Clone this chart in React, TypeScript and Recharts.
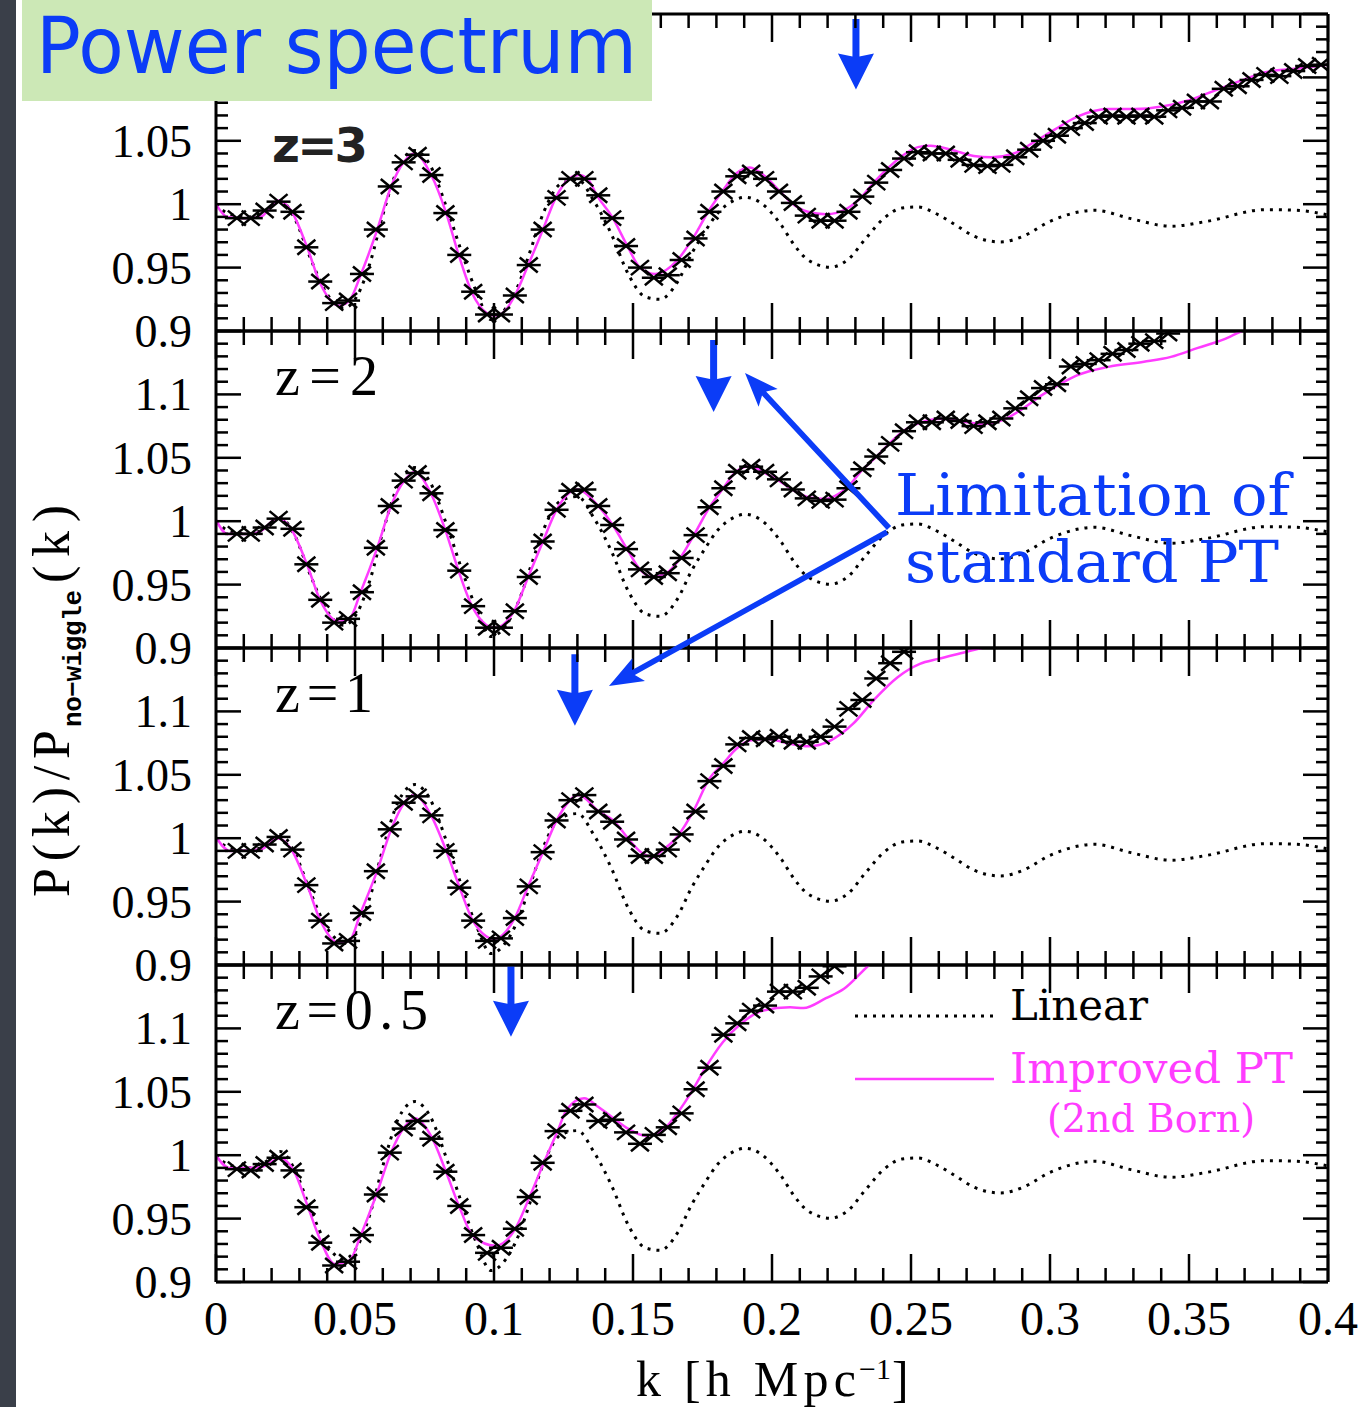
import React from "react";
import { ComposedChart, Line, XAxis, YAxis, ReferenceLine } from "recharts";

// ---- data ----
const kTicks = [0, 0.01, 0.02, 0.03, 0.04, 0.05, 0.06, 0.07, 0.08, 0.09, 0.1, 0.11, 0.12, 0.13, 0.14, 0.15, 0.16, 0.17, 0.18, 0.19, 0.2, 0.21, 0.22, 0.23, 0.24, 0.25, 0.26, 0.27, 0.28, 0.29, 0.3, 0.31, 0.32, 0.33, 0.34, 0.35, 0.36, 0.37, 0.38, 0.39, 0.4];
const kLabels = ["0", "0.05", "0.1", "0.15", "0.2", "0.25", "0.3", "0.35", "0.4"];
const ratioTicks = [0.9, 0.91, 0.92, 0.93, 0.94, 0.95, 0.96, 0.97, 0.98, 0.99, 1, 1.01, 1.02, 1.03, 1.04, 1.05, 1.06, 1.07, 1.08, 1.09, 1.1, 1.11, 1.12, 1.13, 1.14, 1.15];
const ratioLabels = ["0.9", "0.95", "1", "1.05", "1.1"];

const redshiftLabels = ["z=3", "z=2", "z=1", "z=0.5"];

// linear theory (same for every redshift)
const linearK = [0, 0.005, 0.012, 0.018, 0.023, 0.028, 0.0344, 0.0397, 0.0458, 0.051, 0.0556, 0.0602, 0.0655, 0.0716, 0.0769, 0.083, 0.0891, 0.0936, 0.099, 0.1043, 0.1088, 0.1134, 0.118, 0.124, 0.13, 0.136, 0.1423, 0.1484, 0.1544, 0.1597, 0.1662, 0.1709, 0.1758, 0.1807, 0.1855, 0.1904, 0.1968, 0.2032, 0.2081, 0.213, 0.221, 0.2273, 0.2339, 0.2404, 0.2468, 0.2524, 0.2597, 0.2662, 0.2727, 0.2823, 0.2903, 0.3, 0.3162, 0.3291, 0.3435, 0.3565, 0.3775, 0.3888, 0.4];
const linearRatio = [1.0, 0.992, 0.99, 0.995, 1.003, 0.99, 0.955, 0.93, 0.918, 0.9286, 0.955, 0.993, 1.0286, 1.0423, 1.0312, 0.997, 0.9576, 0.9313, 0.909, 0.918, 0.9365, 0.9655, 0.9944, 1.016, 1.0194, 1.0023, 0.976, 0.9444, 0.927, 0.925, 0.9394, 0.9602, 0.978, 0.9935, 1.002, 1.0055, 0.9997, 0.9839, 0.9675, 0.956, 0.9503, 0.9563, 0.9734, 0.9892, 0.997, 0.9978, 0.9918, 0.9834, 0.9747, 0.9702, 0.9747, 0.9865, 0.9952, 0.9886, 0.9826, 0.9865, 0.9957, 0.9952, 0.9915];

// improved PT (2nd Born)
const ptK_z3 = [0, 0.004, 0.01, 0.016, 0.0223, 0.027, 0.0328, 0.0374, 0.0442, 0.048, 0.052, 0.058, 0.063, 0.0675, 0.0714, 0.0774, 0.0828, 0.0873, 0.0921, 0.0975, 0.1002, 0.103, 0.1073, 0.1123, 0.1176, 0.1222, 0.127, 0.1305, 0.134, 0.137, 0.1425, 0.148, 0.1525, 0.158, 0.166, 0.1718, 0.1773, 0.1824, 0.187, 0.192, 0.1975, 0.2025, 0.207, 0.2129, 0.2194, 0.2273, 0.2323, 0.237, 0.242, 0.2468, 0.2525, 0.257, 0.2644, 0.2726, 0.279, 0.287, 0.2935, 0.3018, 0.3098, 0.321, 0.3306, 0.3403, 0.35, 0.3597, 0.3695, 0.3774, 0.3888, 0.4];
const ptRatio_z3 = [1.0, 0.99, 0.989, 0.99, 1.003, 0.995, 0.966, 0.938, 0.92, 0.924, 0.944, 0.98, 1.014, 1.033, 1.04, 1.023, 0.993, 0.96, 0.93, 0.914, 0.912, 0.914, 0.927, 0.952, 0.98, 1.005, 1.02, 1.023, 1.019, 1.007, 0.99, 0.967, 0.95, 0.945, 0.956, 0.974, 0.995, 1.011, 1.024, 1.029, 1.022, 1.011, 1.001, 0.994, 0.992, 0.997, 1.006, 1.018, 1.029, 1.038, 1.045, 1.046, 1.043, 1.038, 1.037, 1.04, 1.048, 1.059, 1.069, 1.075, 1.075, 1.077, 1.082, 1.09, 1.098, 1.104, 1.107, 1.11];
const ptK_z2 = [0, 0.004, 0.012, 0.016, 0.0223, 0.027, 0.0328, 0.0374, 0.0442, 0.048, 0.052, 0.058, 0.063, 0.0677, 0.0714, 0.0774, 0.0825, 0.0873, 0.0921, 0.1002, 0.1073, 0.1123, 0.1176, 0.1225, 0.1298, 0.1377, 0.1427, 0.148, 0.1525, 0.157, 0.162, 0.167, 0.1718, 0.1774, 0.1823, 0.187, 0.192, 0.1975, 0.2025, 0.2072, 0.213, 0.2194, 0.224, 0.2273, 0.2323, 0.238, 0.2428, 0.2475, 0.2532, 0.2613, 0.2694, 0.276, 0.284, 0.289, 0.2968, 0.305, 0.3097, 0.321, 0.3338, 0.3435, 0.3532, 0.363, 0.37, 0.375];
const ptRatio_z2 = [1.001, 0.99, 0.99, 0.992, 1.0026, 0.994, 0.9655, 0.938, 0.9208, 0.923, 0.944, 0.979, 1.0123, 1.032, 1.0389, 1.0215, 0.993, 0.9605, 0.933, 0.9158, 0.9295, 0.956, 0.984, 1.009, 1.025, 1.0115, 0.997, 0.9776, 0.962, 0.956, 0.959, 0.971, 0.9886, 1.0105, 1.0255, 1.039, 1.0434, 1.038, 1.032, 1.025, 1.019, 1.0176, 1.0215, 1.027, 1.04, 1.0517, 1.0625, 1.0715, 1.0775, 1.0807, 1.0783, 1.0767, 1.0807, 1.087, 1.099, 1.1099, 1.115, 1.1217, 1.1257, 1.1296, 1.1367, 1.1438, 1.151, 1.156];
const ptK_z1 = [0, 0.005, 0.016, 0.0223, 0.027, 0.0328, 0.0374, 0.0442, 0.048, 0.052, 0.058, 0.063, 0.0677, 0.0714, 0.0774, 0.0828, 0.0876, 0.0924, 0.1002, 0.1073, 0.1123, 0.1176, 0.1225, 0.1305, 0.1377, 0.143, 0.1484, 0.1529, 0.1575, 0.1597, 0.1662, 0.1718, 0.1774, 0.1823, 0.1871, 0.192, 0.1984, 0.2065, 0.213, 0.221, 0.2291, 0.237, 0.2452, 0.2532, 0.2597, 0.2694, 0.2766, 0.28];
const ptRatio_z1 = [1.0008, 0.99, 0.991, 1.0, 0.9915, 0.963, 0.9357, 0.9174, 0.9192, 0.941, 0.9744, 1.0068, 1.0278, 1.0341, 1.0178, 0.9902, 0.9613, 0.935, 0.9205, 0.9363, 0.9621, 0.9889, 1.0139, 1.0341, 1.021, 1.0139, 0.9994, 0.9889, 0.985, 0.9889, 1.002, 1.0217, 1.0468, 1.0586, 1.0704, 1.077, 1.0783, 1.0744, 1.0725, 1.077, 1.0901, 1.1099, 1.127, 1.1375, 1.1414, 1.1467, 1.1507, 1.153];
const ptK_z05 = [0, 0.005, 0.016, 0.023, 0.028, 0.0328, 0.0374, 0.0427, 0.048, 0.052, 0.058, 0.063, 0.0677, 0.0716, 0.0776, 0.0828, 0.0876, 0.0924, 0.1005, 0.1076, 0.1126, 0.118, 0.1228, 0.1263, 0.1324, 0.1377, 0.143, 0.1484, 0.1544, 0.1597, 0.1662, 0.171, 0.1758, 0.1823, 0.1888, 0.1968, 0.2065, 0.2113, 0.2194, 0.2259, 0.2347, 0.238];
const ptRatio_z05 = [0.9997, 0.9897, 0.9905, 0.9976, 0.9878, 0.9608, 0.9339, 0.9142, 0.9168, 0.9365, 0.9708, 1.0023, 1.0221, 1.0292, 1.0142, 0.9865, 0.9589, 0.9365, 0.9286, 0.9418, 0.966, 0.9944, 1.0186, 1.0365, 1.0449, 1.0378, 1.0292, 1.0207, 1.0154, 1.018, 1.0339, 1.0497, 1.068, 1.0891, 1.1036, 1.1141, 1.1167, 1.116, 1.1238, 1.1312, 1.1496, 1.156];

// N-body bins
const nbodyK = [0.0075, 0.0125, 0.0175, 0.0225, 0.0275, 0.0325, 0.0375, 0.0425, 0.0475, 0.0525, 0.0575, 0.0625, 0.0675, 0.0725, 0.0775, 0.0825, 0.0875, 0.0925, 0.0975, 0.1025, 0.1075, 0.1125, 0.1175, 0.1225, 0.1275, 0.1325, 0.1375, 0.1425, 0.1475, 0.1525, 0.1575, 0.1625, 0.1675, 0.1725, 0.1775, 0.1825, 0.1875, 0.1925, 0.1975, 0.2025, 0.2075, 0.2125, 0.2175, 0.2225, 0.2275, 0.2325, 0.2375, 0.2425, 0.2475, 0.2525, 0.2575, 0.2625, 0.2675, 0.2725, 0.2775, 0.2825, 0.2875, 0.2925, 0.2975, 0.3025, 0.3075, 0.3125, 0.3175, 0.3225, 0.3275, 0.3325, 0.3375, 0.3425, 0.3475, 0.3525, 0.3575, 0.3625, 0.3675, 0.3725, 0.3775, 0.3825, 0.3875, 0.3925, 0.3975];
const nbodyRatio_z3 = [0.989, 0.989, 0.995, 1.002, 0.994, 0.966, 0.939, 0.922, 0.924, 0.945, 0.98, 1.014, 1.033, 1.039, 1.023, 0.993, 0.96, 0.931, 0.913, 0.913, 0.928, 0.952, 0.98, 1.005, 1.02, 1.02, 1.007, 0.989, 0.967, 0.95, 0.942, 0.944, 0.956, 0.973, 0.994, 1.01, 1.022, 1.025, 1.02, 1.01, 1.001, 0.991, 0.987, 0.987, 0.994, 1.006, 1.017, 1.027, 1.036, 1.041, 1.04, 1.04, 1.035, 1.031, 1.03, 1.031, 1.037, 1.043, 1.05, 1.054, 1.06, 1.064, 1.069, 1.07, 1.069, 1.07, 1.069, 1.074, 1.076, 1.081, 1.081, 1.091, 1.093, 1.098, 1.102, 1.101, 1.105, 1.109, 1.11];
const nbodyRatio_z2 = [0.99, 0.99, 0.995, 1.002, 0.994, 0.966, 0.938, 0.92, 0.923, 0.944, 0.979, 1.012, 1.032, 1.038, 1.022, 0.993, 0.961, 0.933, 0.916, 0.916, 0.929, 0.956, 0.984, 1.009, 1.024, 1.025, 1.012, 0.997, 0.978, 0.962, 0.956, 0.959, 0.971, 0.989, 1.011, 1.026, 1.039, 1.043, 1.039, 1.033, 1.025, 1.018, 1.016, 1.017, 1.026, 1.041, 1.051, 1.061, 1.071, 1.078, 1.078, 1.081, 1.079, 1.075, 1.078, 1.081, 1.089, 1.097, 1.105, 1.108, 1.122, 1.124, 1.127, 1.132, 1.135, 1.14, 1.142, 1.148];
const nbodyRatio_z1 = [0.99, 0.99, 0.995, 1.001, 0.991, 0.963, 0.935, 0.917, 0.919, 0.941, 0.974, 1.007, 1.028, 1.033, 1.018, 0.99, 0.961, 0.935, 0.919, 0.921, 0.937, 0.962, 0.989, 1.014, 1.03, 1.034, 1.021, 1.013, 0.999, 0.986, 0.986, 0.991, 1.003, 1.021, 1.045, 1.057, 1.074, 1.079, 1.078, 1.08, 1.076, 1.076, 1.08, 1.088, 1.102, 1.109, 1.126, 1.138, 1.147];
const nbodyRatio_z05 = [0.989, 0.988, 0.993, 0.998, 0.988, 0.959, 0.931, 0.913, 0.916, 0.937, 0.969, 1.002, 1.021, 1.027, 1.013, 0.987, 0.96, 0.937, 0.923, 0.927, 0.942, 0.967, 0.994, 1.019, 1.035, 1.04, 1.027, 1.028, 1.018, 1.009, 1.016, 1.022, 1.033, 1.052, 1.069, 1.095, 1.104, 1.114, 1.118, 1.129, 1.129, 1.132, 1.141, 1.149];

// blue arrows marking the wave number limit in each panel
const arrowK = [0.2302, 0.179, 0.1291, 0.1061];
const arrowTop = [1.146, 1.143, 1.145, 1.149];
const arrowTip = [1.0905, 1.0862, 1.0886, 1.0935];

// ---- layout ----
const W = 1364;
const H = 1407;
const PLOT_LEFT = 216;
const PLOT_RIGHT = 1328;
const PLOT_H = 317;
const PANEL_TOPS = [14, 331, 648, 965];

const BLUE = "#0b3cf7";
const MAGENTA = "#ff3cff";
const SERIF = '"Liberation Serif", "DejaVu Serif", serif';
const SLAB = '"DejaVu Serif", serif';
const SANS = '"DejaVu Sans", sans-serif';
const AXIS_LINE = { stroke: "#000", strokeWidth: 3 };

const ptK = [ptK_z3, ptK_z2, ptK_z1, ptK_z05];
const ptRatio = [ptRatio_z3, ptRatio_z2, ptRatio_z1, ptRatio_z05];
const nbodyRatio = [nbodyRatio_z3, nbodyRatio_z2, nbodyRatio_z1, nbodyRatio_z05];

const rows = (ks: number[], vs: number[]) => vs.map((r, i) => ({ k: ks[i], r }));
const linearRows = rows(linearK, linearRatio);

const isMajorK = (v: number) => Math.abs(v * 20 - Math.round(v * 20)) < 1e-6;
const isMajorR = (v: number) => Math.abs((v - 0.9) * 20 - Math.round((v - 0.9) * 20)) < 1e-6;

const BottomTick = (p: any) => {
  const { x, y, payload, showLabel } = p;
  const major = isMajorK(payload.value);
  const label = major ? kLabels[Math.round(payload.value * 20)] : null;
  return (
    <g>
      <line x1={x} y1={y} x2={x} y2={y - (major ? 28 : 14)} stroke="#000" strokeWidth={2.5} />
      {showLabel && label ? (
        <text x={x} y={y + 53} textAnchor="middle" fontFamily={SERIF} fontSize={48} fill="#000">
          {label}
        </text>
      ) : null}
    </g>
  );
};

const TopTick = (p: any) => {
  const { x, y, payload } = p;
  const major = isMajorK(payload.value);
  return <line x1={x} y1={y} x2={x} y2={y + (major ? 28 : 14)} stroke="#000" strokeWidth={2.5} />;
};

// labels above maxLabel are hidden behind the title box in the top panel
const LeftTick = (p: any) => {
  const { x, y, payload, maxLabel } = p;
  const major = isMajorR(payload.value);
  const label = major && payload.value <= maxLabel ? ratioLabels[Math.round((payload.value - 0.9) * 20)] : null;
  return (
    <g>
      <line x1={x} y1={y} x2={x + (major ? 25 : 12)} y2={y} stroke="#000" strokeWidth={2.5} />
      {label ? (
        <text x={x - 24} y={y + 16} textAnchor="end" fontFamily={SERIF} fontSize={46} fill="#000">
          {label}
        </text>
      ) : null}
    </g>
  );
};

const RightTick = (p: any) => {
  const { x, y, payload } = p;
  const major = isMajorR(payload.value);
  return <line x1={x} y1={y} x2={x - (major ? 25 : 12)} y2={y} stroke="#000" strokeWidth={2.5} />;
};

const renderStar = (p: any) => {
  const { cx, cy, index } = p;
  if (cx == null || cy == null) return <g key={`s${index}`} />;
  return (
    <g key={`s${index}`} stroke="#000" strokeWidth={2.5} fill="none">
      <line x1={cx - 12} y1={cy} x2={cx + 12} y2={cy} />
      <line x1={cx - 9} y1={cy - 7.5} x2={cx + 9} y2={cy + 7.5} />
      <line x1={cx - 9} y1={cy + 7.5} x2={cx + 9} y2={cy - 7.5} />
    </g>
  );
};

const DownArrow = (p: any) => {
  const { x1, y1, y2 } = p;
  const sw = 3.5;
  const hw = 18;
  const yb = y2 - 33;
  const pts = [
    [x1 - sw, y1], [x1 + sw, y1], [x1 + sw, yb], [x1 + hw, yb - 3],
    [x1, y2], [x1 - hw, yb - 3], [x1 - sw, yb],
  ].map((q) => q.join(",")).join(" ");
  return <polygon points={pts} fill={BLUE} />;
};

function Panel({ i }: { i: number }) {
  const top = PANEL_TOPS[i];
  const last = i === PANEL_TOPS.length - 1;
  const padTop = 12;
  const padBottom = last ? H - (top + PLOT_H) : 26;
  const maxLabel = i === 0 ? 1.075 : 1.2;
  const pt = rows(ptK[i], ptRatio[i]);
  const nb = rows(nbodyK, nbodyRatio[i]);
  return (
    <div style={{ position: "absolute", left: 0, top: top - padTop }}>
      <ComposedChart width={W} height={padTop + PLOT_H + padBottom} margin={{ top: 0, right: 0, bottom: 0, left: 0 }}>
        <XAxis xAxisId="b" type="number" dataKey="k" domain={[0, 0.4]} allowDataOverflow ticks={kTicks} interval={0}
          height={padBottom} tickSize={0} tickMargin={0} tickLine={false} axisLine={AXIS_LINE}
          tick={(p: any) => <BottomTick {...p} showLabel={last} />} />
        <XAxis xAxisId="t" orientation="top" type="number" dataKey="k" domain={[0, 0.4]} allowDataOverflow ticks={kTicks} interval={0}
          height={padTop} tickSize={0} tickMargin={0} tickLine={false} axisLine={AXIS_LINE} tick={TopTick} />
        <YAxis yAxisId="l" type="number" domain={[0.9, 1.15]} allowDataOverflow ticks={ratioTicks} interval={0}
          width={PLOT_LEFT} tickSize={0} tickMargin={0} tickLine={false} axisLine={AXIS_LINE}
          tick={(p: any) => <LeftTick {...p} maxLabel={maxLabel} />} />
        <YAxis yAxisId="r" orientation="right" type="number" domain={[0.9, 1.15]} allowDataOverflow ticks={ratioTicks} interval={0}
          width={W - PLOT_RIGHT} tickSize={0} tickMargin={0} tickLine={false} axisLine={AXIS_LINE} tick={RightTick} />
        <Line xAxisId="b" yAxisId="l" data={linearRows} dataKey="r" type="monotone" stroke="#000" strokeWidth={3}
          strokeDasharray="3 6" dot={false} activeDot={false} isAnimationActive={false} />
        <Line xAxisId="b" yAxisId="l" data={nb} dataKey="r" stroke="none" strokeWidth={0}
          dot={renderStar} activeDot={false} isAnimationActive={false} />
        <Line xAxisId="b" yAxisId="l" data={pt} dataKey="r" type="monotone" stroke={MAGENTA} strokeWidth={2.5}
          dot={false} activeDot={false} isAnimationActive={false} />
        <ReferenceLine xAxisId="b" yAxisId="l" ifOverflow="visible"
          segment={[{ x: arrowK[i], y: arrowTop[i] }, { x: arrowK[i], y: arrowTip[i] }]}
          shape={DownArrow} />
      </ComposedChart>
    </div>
  );
}

function arrowPoints(x0: number, y0: number, x1: number, y1: number) {
  const len = Math.hypot(x1 - x0, y1 - y0);
  const ux = (x1 - x0) / len;
  const uy = (y1 - y0) / len;
  const nx = -uy;
  const ny = ux;
  const sh = 2.8;
  const hh = 13;
  const bx = x1 - ux * 28;
  const by = y1 - uy * 28;
  const wx = bx - ux * 6;
  const wy = by - uy * 6;
  return [
    [x0 + nx * sh, y0 + ny * sh], [bx + nx * sh, by + ny * sh], [wx + nx * hh, wy + ny * hh],
    [x1, y1], [wx - nx * hh, wy - ny * hh], [bx - nx * sh, by - ny * sh], [x0 - nx * sh, y0 - ny * sh],
  ].map((q) => q.map((v) => v.toFixed(1)).join(",")).join(" ");
}

function Overlay() {
  const zY = [162, 395, 712, 1029];
  const zLen = [96, 103, 98, 153];
  return (
    <svg width={W} height={H} style={{ position: "absolute", left: 0, top: 0, pointerEvents: "none" }}>
      <rect x={0} y={0} width={16} height={H} fill="#3a3f49" />
      <rect x={22} y={0} width={630} height={101} fill="#cce8b6" />
      <text x={36} y={73} fontFamily={SANS} fontSize={78} fill={BLUE} textLength={601} lengthAdjust="spacingAndGlyphs">
        Power spectrum
      </text>

      {redshiftLabels.map((z, i) => (
        <text key={z} x={i === 0 ? 272 : 275} y={zY[i]} fontFamily={i === 0 ? SANS : SERIF}
          fontWeight={i === 0 ? "bold" : "normal"} fontSize={i === 0 ? 48 : 56} fill={i === 0 ? "#222" : "#000"}
          textLength={zLen[i]} lengthAdjust="spacing">
          {z}
        </text>
      ))}

      {/* y axis title */}
      <text transform="translate(69,897) rotate(-90)" fontFamily={SERIF} fontSize={52} fill="#000"
        textLength={167} lengthAdjust="spacing">P(k)/P</text>
      <text transform="translate(81,727) rotate(-90)" fontFamily='"Liberation Mono", monospace' fontWeight="bold"
        fontSize={26} fill="#000" textLength={137} lengthAdjust="spacing">no−wiggle</text>
      <text transform="translate(69,583) rotate(-90)" fontFamily={SERIF} fontSize={52} fill="#000"
        textLength={78} lengthAdjust="spacing">(k)</text>

      {/* x axis title */}
      <text x={636} y={1396} fontFamily={SERIF} fontSize={50} fill="#000" textLength={220} lengthAdjust="spacing">
        k [h Mpc
      </text>
      <text x={859} y={1379} fontFamily={SERIF} fontSize={30} fill="#000">
        −1
      </text>
      <text x={892} y={1396} fontFamily={SERIF} fontSize={50} fill="#000">]</text>

      {/* annotation */}
      <polygon points={arrowPoints(889, 528, 745, 373)} fill={BLUE} />
      <polygon points={arrowPoints(887, 532, 609, 686)} fill={BLUE} />
      <text x={895} y={515} fontFamily={SLAB} fontSize={57} fill={BLUE} textLength={395} lengthAdjust="spacingAndGlyphs">
        Limitation of
      </text>
      <text x={905} y={582} fontFamily={SLAB} fontSize={57} fill={BLUE} textLength={374} lengthAdjust="spacingAndGlyphs">
        standard PT
      </text>

      {/* legend */}
      <line x1={855} y1={1016} x2={995} y2={1016} stroke="#000" strokeWidth={3} strokeDasharray="3 6" />
      <text x={1010} y={1020} fontFamily={SLAB} fontSize={42} fill="#000" textLength={138} lengthAdjust="spacingAndGlyphs">
        Linear
      </text>
      <line x1={855} y1={1079} x2={994} y2={1079} stroke={MAGENTA} strokeWidth={2.5} />
      <text x={1010} y={1083} fontFamily={SLAB} fontSize={42} fill={MAGENTA} textLength={283} lengthAdjust="spacingAndGlyphs">
        Improved PT
      </text>
      <text x={1047} y={1132} fontFamily={SLAB} fontSize={40} fill={MAGENTA} textLength={208} lengthAdjust="spacingAndGlyphs">
        (2nd Born)
      </text>
    </svg>
  );
}

export default function App() {
  return (
    <div style={{ position: "absolute", left: 0, top: 0, width: W, height: H, background: "#fff", overflow: "hidden" }}>
      {PANEL_TOPS.map((_, i) => (
        <Panel key={i} i={i} />
      ))}
      <Overlay />
    </div>
  );
}
